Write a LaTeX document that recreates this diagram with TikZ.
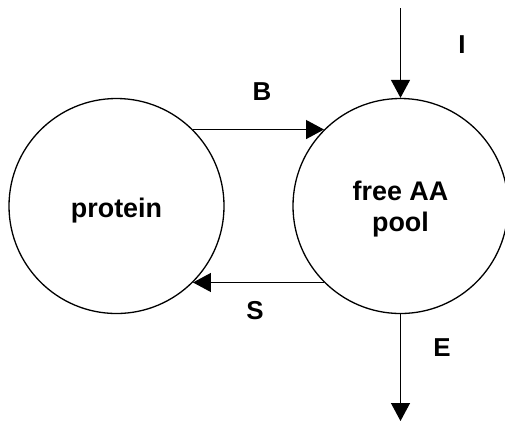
\documentclass[tikz,border=0pt]{standalone}
\usepackage{fontspec}
\setmainfont{Liberation Sans}
\usetikzlibrary{arrows.meta}
\begin{document}
\begin{tikzpicture}[x=1bp, y=-1bp,
  pool/.style={circle, draw, line width=1.3bp, minimum size=215bp, inner sep=0pt,
    align=center, font=\fontsize{27}{32}\selectfont\bfseries},
  flow/.style={line width=1.3bp, -{Triangle[length=18bp, width=19bp]}},
  lab/.style={font=\fontsize{26}{30}\selectfont\bfseries, inner sep=0pt}]
  \useasboundingbox (0,0) rectangle (505,423);
  % compartments
  \node[pool] (prot) at (116.5,206) {\raisebox{-11bp}[0pt][0pt]{protein}};
  \node[pool] (free) at (400.5,206) {\raisebox{-25bp}[0pt][0pt]{\shortstack{free AA\\[8bp]pool}}};
  % free ends of intake and excretion
  \coordinate (itop) at (400.5,8);
  \coordinate (ebot) at (400.5,421);
  % fluxes
  \draw[flow] (prot.45) -- (free.135);
  \draw[flow] (free.-135) -- (prot.-45);
  \draw[flow] (itop) -- (free.north);
  \draw[flow] (free.south) -- (ebot);
  % flux labels
  \node[lab] (lB) at (262,92) {B};
  \node[lab] (lS) at (255,311) {S};
  \node[lab] (lI) at (462,45) {I};
  \node[lab] (lE) at (442,348) {E};
\end{tikzpicture}
\end{document}
